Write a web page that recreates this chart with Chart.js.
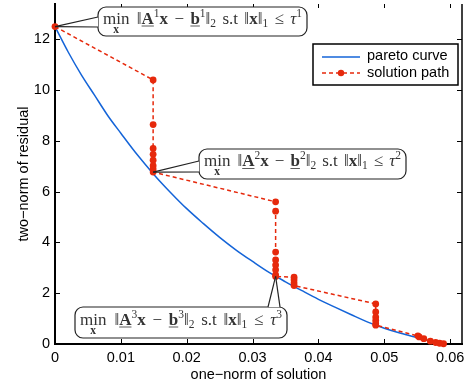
<!DOCTYPE html>
<html>
<head>
<meta charset="utf-8">
<script src="https://cdn.jsdelivr.net/npm/chart.js@4.4.0/dist/chart.umd.min.js"></script>
<style>
  html, body { margin: 0; padding: 0; background: #fff; }
  #wrap { width: 471px; height: 389px; }
</style>
</head>
<body>
<div id="wrap"><canvas id="paretoChart" width="471" height="389"></canvas></div>
<script>
// ==============================
// Data
// ==============================
const paretoX = [0, 0.002, 0.004, 0.006, 0.008, 0.010, 0.0125, 0.015, 0.0175, 0.020, 0.0225,
                 0.025, 0.0275, 0.030, 0.0325, 0.035, 0.0375, 0.040, 0.0425, 0.045, 0.0475,
                 0.050, 0.0525, 0.055, 0.0575, 0.0590];
const paretoY = [12.5, 11.5, 10.6, 9.8, 9.0, 8.3, 7.45, 6.68, 5.98, 5.33, 4.75,
                 4.2, 3.7, 3.25, 2.82, 2.45, 2.1, 1.76, 1.45, 1.15, 0.86,
                 0.62, 0.42, 0.25, 0.08, 0.0];

const pathX = [0,
               0.0149, 0.0149, 0.0149, 0.0149, 0.0149, 0.0149, 0.0149, 0.0149,
               0.0335, 0.0335, 0.0335, 0.0335, 0.0335, 0.0335, 0.0335, 0.0335,
               0.0363, 0.0363, 0.0363, 0.0363,
               0.0487, 0.0487, 0.0487, 0.0487, 0.0487, 0.0487,
               0.0551, 0.0553, 0.0560, 0.0570, 0.0578, 0.0584, 0.0590];
const pathY = [12.5,
               10.4, 8.64, 7.70, 7.47, 7.24, 7.02, 6.89, 6.77,
               5.60, 5.23, 3.62, 3.31, 3.11, 2.92, 2.72, 2.66,
               2.63, 2.52, 2.40, 2.30,
               1.58, 1.26, 1.06, 0.93, 0.80, 0.74,
               0.32, 0.28, 0.21, 0.11, 0.06, 0.03, 0.01];

const xTicks = [0, 0.01, 0.02, 0.03, 0.04, 0.05, 0.06];
const yTicks = [0, 2, 4, 6, 8, 10, 12];

const seriesNames = ['pareto curve', 'solution path'];
const calloutIndex = [0, 8, 16];   // solution path points the callouts point at
const calloutPower = ['1', '2', '3'];

const BLUE = '#1464d8';
const RED = '#e6290c';

// ==============================
// Helpers
// ==============================
function line(ctx, x1, y1, x2, y2) {
    ctx.beginPath();
    ctx.moveTo(x1, y1);
    ctx.lineTo(x2, y2);
    ctx.stroke();
}

function roundRect(ctx, x, y, w, h, r) {
    ctx.beginPath();
    ctx.moveTo(x + r, y);
    ctx.lineTo(x + w - r, y);
    ctx.arcTo(x + w, y, x + w, y + r, r);
    ctx.lineTo(x + w, y + h - r);
    ctx.arcTo(x + w, y + h, x + w - r, y + h, r);
    ctx.lineTo(x + r, y + h);
    ctx.arcTo(x, y + h, x, y + h - r, r);
    ctx.lineTo(x, y + r);
    ctx.arcTo(x, y, x + r, y, r);
    ctx.closePath();
}

const FS = 17;
const SERIF = '"Liberation Serif", "DejaVu Serif", serif';
const fR = FS + 'px ' + SERIF;
const fB = 'bold ' + FS + 'px ' + SERIF;
const fI = 'italic ' + FS + 'px ' + SERIF;
const fS = '11.5px ' + SERIF;

// g = number of stretchable gaps around the run (used to fill the box width)
function mathRuns(k) {
    return [
        { t: 'min', f: fR, min: true },
        { t: ' ', f: fR, g: 1.5 },
        { t: '\u2016', f: fR },
        { t: 'A', f: fB, u: true },
        { t: k, f: fS, dy: -7 },
        { t: 'x', f: fB },
        { t: ' \u2212 ', f: fR, g: 2 },
        { t: 'b', f: fB, u: true },
        { t: k, f: fS, dy: -7 },
        { t: '\u2016', f: fR },
        { t: '2', f: fS, dy: 3 },
        { t: ' s.t ', f: fR, g: 2 },
        { t: '\u2016', f: fR },
        { t: 'x', f: fB },
        { t: '\u2016', f: fR },
        { t: '1', f: fS, dy: 3 },
        { t: ' \u2264 ', f: fR, g: 2 },
        { t: '\u03c4', f: fI },
        { t: k, f: fS, dy: -7 }
    ];
}

function drawRuns(ctx, runs, left, width, base) {
    let total = 0, gaps = 0;
    runs.forEach(r => {
        ctx.font = r.f;
        r.w = ctx.measureText(r.t).width;
        total += r.w;
        gaps += r.g || 0;
    });
    const unit = Math.max(0, (width - total) / gaps);
    let x = left + Math.max(0, (width - total - unit * gaps) / 2);
    ctx.textBaseline = 'alphabetic';
    ctx.textAlign = 'left';
    runs.forEach(r => {
        const w = r.w + (r.g || 0) * unit;
        const off = (w - r.w) / 2;
        ctx.font = r.f;
        ctx.fillText(r.t, x + off, base + (r.dy || 0));
        if (r.u) line(ctx, x + off, base + 2.5, x + off + r.w, base + 2.5);
        if (r.min) {
            ctx.font = 'bold 11.5px ' + SERIF;
            ctx.textAlign = 'center';
            ctx.fillText('x', x + r.w / 2, base + 9);
            ctx.textAlign = 'left';
        }
        x += w;
    });
}

// box rectangles and the two points where the pointer meets the box
const calloutBoxes = [
    { box: [98, 7, 209, 29], attach: [[98, 17], [98, 27]] },
    { box: [199, 149, 207, 30], attach: [[199, 161], [199, 172]] },
    { box: [75, 307, 212, 31], attach: [[268, 307], [280, 307]] }
];

// ==============================
// Overlay plugin: ticks, frame, callouts, legend
// ==============================
const overlay = {
    id: 'overlay',
    afterDraw(chart) {
        const { ctx, chartArea: a, scales: { x, y } } = chart;
        ctx.save();

        // inward tick marks on all four sides
        ctx.strokeStyle = '#000';
        ctx.lineWidth = 1;
        xTicks.forEach(v => {
            const px = Math.round(x.getPixelForValue(v)) + 0.5;
            line(ctx, px, a.bottom, px, a.bottom - 5);
            line(ctx, px, a.top, px, a.top + 4);
        });
        yTicks.forEach(v => {
            const py = Math.round(y.getPixelForValue(v)) + 0.5;
            line(ctx, a.left, py, a.left + 5, py);
            line(ctx, a.right, py, a.right - 5, py);
        });
        ctx.lineWidth = 1.5;
        line(ctx, a.right, a.top, a.right, a.bottom);

        // callouts
        calloutBoxes.forEach((c, i) => {
            const idx = calloutIndex[i];
            const tx = x.getPixelForValue(pathX[idx]);
            const ty = y.getPixelForValue(pathY[idx]);
            const [bx, by, bw, bh] = c.box;
            ctx.fillStyle = '#fff';
            ctx.strokeStyle = '#222';
            ctx.lineWidth = 1.2;
            roundRect(ctx, bx, by, bw, bh, 8);
            ctx.fill();
            ctx.stroke();
            // pointer wedge
            ctx.beginPath();
            ctx.moveTo(tx, ty);
            ctx.lineTo(c.attach[0][0], c.attach[0][1]);
            ctx.lineTo(c.attach[1][0], c.attach[1][1]);
            ctx.closePath();
            ctx.fillStyle = '#fff';
            ctx.fill();
            line(ctx, tx, ty, c.attach[0][0], c.attach[0][1]);
            line(ctx, tx, ty, c.attach[1][0], c.attach[1][1]);

            ctx.fillStyle = '#333';
            ctx.strokeStyle = '#333';
            ctx.lineWidth = 0.8;
            drawRuns(ctx, mathRuns(calloutPower[i]), bx + 5, bw - 10, by + bh / 2 + 2);
        });

        // legend
        ctx.fillStyle = '#fff';
        ctx.fillRect(313, 44, 145, 41);
        ctx.strokeStyle = '#000';
        ctx.lineWidth = 1.5;
        ctx.strokeRect(313, 44, 145, 41);

        ctx.lineWidth = 1.5;
        ctx.strokeStyle = BLUE;
        line(ctx, 322, 57, 360, 57);
        ctx.strokeStyle = RED;
        ctx.setLineDash([4, 3]);
        line(ctx, 322, 73, 360, 73);
        ctx.setLineDash([]);
        ctx.fillStyle = RED;
        ctx.beginPath();
        ctx.arc(341, 73, 3.2, 0, Math.PI * 2);
        ctx.fill();

        ctx.fillStyle = '#000';
        ctx.font = '14.5px "Liberation Sans", Arial, sans-serif';
        ctx.textAlign = 'left';
        ctx.textBaseline = 'middle';
        ctx.fillText(seriesNames[0], 367, 56);
        ctx.fillText(seriesNames[1], 367, 73);

        ctx.restore();
    }
};

// ==============================
// Chart.js Initialization
// ==============================
Chart.defaults.font.family = '"Liberation Sans", Arial, sans-serif';
Chart.defaults.font.size = 14.5;
Chart.defaults.color = '#000';

const paretoCtx = document.getElementById('paretoChart').getContext('2d');
const paretoChart = new Chart(paretoCtx, {
    type: 'scatter',
    data: {
        datasets: [{
            label: seriesNames[1],
            data: pathX.map((v, i) => ({ x: v, y: pathY[i] })),
            showLine: true,
            borderColor: RED,
            borderWidth: 1.5,
            borderDash: [4, 3],
            pointRadius: 3.4,
            pointBorderWidth: 0,
            pointBackgroundColor: RED,
            clip: false,
            order: 1
        }, {
            label: seriesNames[0],
            data: paretoX.map((v, i) => ({ x: v, y: paretoY[i] })),
            showLine: true,
            borderColor: BLUE,
            borderWidth: 1.5,
            pointRadius: 0,
            cubicInterpolationMode: 'monotone',
            order: 2
        }]
    },
    options: {
        responsive: false,
        animation: false,
        devicePixelRatio: 1,
        layout: { padding: { left: 0, right: 9, top: 0, bottom: 0 } },
        plugins: { legend: { display: false }, tooltip: { enabled: false } },
        scales: {
            x: {
                type: 'linear',
                min: 0,
                max: 0.0618,
                afterBuildTicks: s => { s.ticks = xTicks.map(v => ({ value: v })); },
                afterFit: s => { s.height = 45; s.paddingLeft = 0; s.paddingRight = 0; },
                grid: { display: false, drawTicks: false },
                border: { display: true, color: '#000', width: 2 },
                ticks: { padding: 5, autoSkip: false, maxRotation: 0, callback: v => String(v) },
                title: { display: true, text: 'one\u2212norm of solution', padding: { top: 0, bottom: 5 } }
            },
            y: {
                type: 'linear',
                min: 0,
                max: 13.39,
                afterBuildTicks: s => { s.ticks = yTicks.map(v => ({ value: v })); },
                afterFit: s => { s.width = 55; s.paddingTop = 0; s.paddingBottom = 0; },
                grid: { display: false, drawTicks: false },
                border: { display: true, color: '#000', width: 2 },
                ticks: { padding: 5, callback: v => String(v) },
                title: { display: true, text: 'two\u2212norm of residual', padding: { top: 15, bottom: 0 } }
            }
        }
    },
    plugins: [overlay]
});
</script>
</body>
</html>
